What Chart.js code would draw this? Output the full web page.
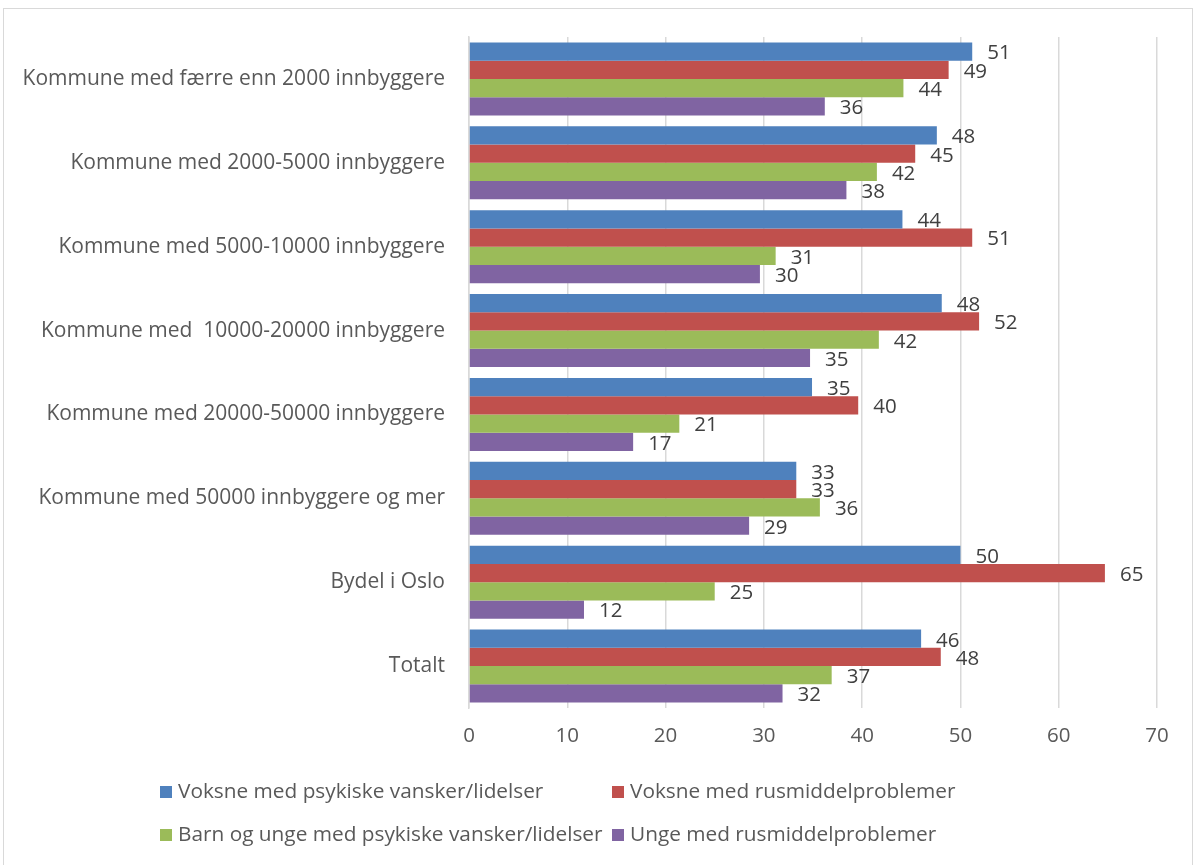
<!DOCTYPE html>
<html>
<head>
<meta charset="utf-8">
<script src="https://cdn.jsdelivr.net/npm/chart.js@4/dist/chart.umd.min.js"></script>
<style>
    html, body { margin: 0; padding: 0; background: #fff; }
    #wrap { position: relative; width: 1197px; height: 865px; overflow: hidden; }
    #ramme { position: absolute; left: 3px; top: 8px; width: 1190px; height: 870px; border: 1px solid #d9d9d9; box-sizing: border-box; }
    #graf { position: absolute; left: 0; top: 0; }
    .leg { position: absolute; font-family: "Open Sans", sans-serif; font-size: 20.8px; color: #595959; white-space: nowrap; line-height: 24px; }
    .leg span { display: inline-block; width: 12px; height: 12px; margin-right: 6px; vertical-align: 0px; }
</style>
</head>
<body>
<div id="wrap">
    <div id="ramme"></div>
    <canvas id="graf" width="1197" height="865"></canvas>
    <div id="legende"></div>
</div>
<script>
const kategorier = [
    "Kommune med færre enn 2000 innbyggere",
    "Kommune med 2000-5000 innbyggere",
    "Kommune med 5000-10000 innbyggere",
    "Kommune med  10000-20000 innbyggere",
    "Kommune med 20000-50000 innbyggere",
    "Kommune med 50000 innbyggere og mer",
    "Bydel i Oslo",
    "Totalt"
];

const serieNavn = [
    "Voksne med psykiske vansker/lidelser",
    "Voksne med rusmiddelproblemer",
    "Barn og unge med psykiske vansker/lidelser",
    "Unge med rusmiddelproblemer"
];

const farger = ["#4f81bd", "#c0504d", "#9bbb59", "#8064a2"];

const voksnePsykisk = [51.2, 47.6, 44.1, 48.1, 34.9, 33.3, 50.0, 46.0];
const voksneRus     = [48.8, 45.4, 51.2, 51.9, 39.6, 33.3, 64.7, 48.0];
const barnPsykisk   = [44.2, 41.5, 31.2, 41.7, 21.4, 35.7, 25.0, 36.9];
const ungeRus       = [36.2, 38.4, 29.6, 34.7, 16.7, 28.5, 11.7, 31.9];

const xTicks = [0, 10, 20, 30, 40, 50, 60, 70];

const fontNavn = '"Open Sans", sans-serif';

// tall ved enden av hver stolpe
const verdiEtiketter = {
    id: "verdiEtiketter",
    afterDatasetsDraw(chart) {
        const ctx = chart.ctx;
        ctx.save();
        ctx.font = "20.5px " + fontNavn;
        ctx.fillStyle = "#404040";
        ctx.textAlign = "left";
        ctx.textBaseline = "middle";
        chart.data.datasets.forEach((ds, i) => {
            chart.getDatasetMeta(i).data.forEach((bar, j) => {
                ctx.fillText(Math.round(ds.data[j]), bar.x + 15, bar.y + 2);
            });
        });
        ctx.restore();
    }
};

const ctx = document.getElementById("graf").getContext("2d");
new Chart(ctx, {
    type: "bar",
    data: {
        labels: kategorier,
        datasets: [voksnePsykisk, voksneRus, barnPsykisk, ungeRus].map((d, i) => ({
            label: serieNavn[i],
            data: d,
            backgroundColor: farger[i],
            borderWidth: 0,
            barPercentage: 1.0,
            categoryPercentage: 0.87
        }))
    },
    options: {
        indexAxis: "y",
        responsive: false,
        animation: false,
        layout: { padding: { left: 0, top: 37, right: 40, bottom: 0 } },
        plugins: {
            legend: { display: false },
            tooltip: { enabled: false }
        },
        scales: {
            x: {
                min: 0,
                max: 70,
                afterBuildTicks: scale => { scale.ticks = xTicks.map(v => ({ value: v })); },
                afterFit: scale => { scale.height = 865 - 708; },
                grid: { color: "#d9d9d9", lineWidth: 1.5, drawTicks: false },
                border: { display: false },
                ticks: {
                    padding: 16,
                    color: "#595959",
                    font: { family: fontNavn, size: 20.5 }
                }
            },
            y: {
                afterFit: scale => { scale.width = 469; },
                grid: { display: false, drawTicks: false },
                border: { color: "#d9d9d9", width: 1.5 },
                ticks: {
                    padding: 24,
                    color: "#595959",
                    font: { family: fontNavn, size: 21 }
                }
            }
        }
    },
    plugins: [verdiEtiketter]
});

// legende i to rader, som i originalen
const plass = [[160, 778], [612, 778], [160, 821], [612, 821]];
const leg = document.getElementById("legende");
serieNavn.forEach((navn, i) => {
    const el = document.createElement("div");
    el.className = "leg";
    el.style.left = plass[i][0] + "px";
    el.style.top = plass[i][1] + "px";
    el.innerHTML = '<span style="background:' + farger[i] + '"></span>' + navn;
    leg.appendChild(el);
});
</script>
</body>
</html>
